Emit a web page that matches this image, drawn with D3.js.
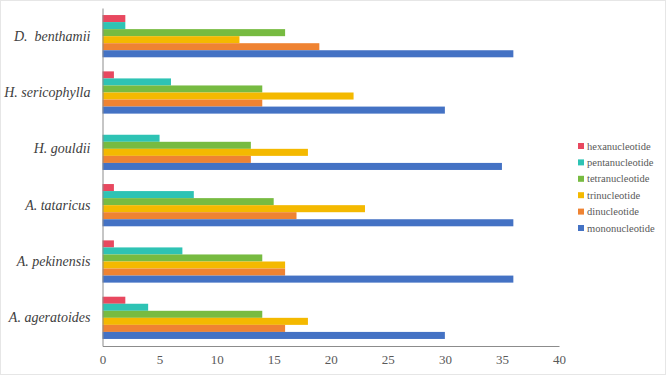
<!DOCTYPE html>
<html><head><meta charset="utf-8">
<script src="https://cdn.jsdelivr.net/npm/d3@7"></script>
<style>body{margin:0;background:#fff}svg{display:block}</style>
</head><body>
<script>
const categories = ["D.  benthamii","H. sericophylla","H. gouldii","A. tataricus","A. pekinensis","A. ageratoides"];
const seriesNames = ["hexanucleotide","pentanucleotide","tetranucleotide","trinucleotide","dinucleotide","mononucleotide"];
const seriesColors = ["#e8485f","#2ec3b4","#77bb41","#f4b900","#ef8332","#4472c4"];
const hexanucleotide  = [2,1,0,1,1,2];
const pentanucleotide = [2,6,5,8,7,4];
const tetranucleotide = [16,14,13,15,14,14];
const trinucleotide   = [12,22,18,23,16,18];
const dinucleotide    = [19,14,13,17,16,16];
const mononucleotide  = [36,30,35,36,36,30];
const xTicks = [0,5,10,15,20,25,30,35,40];
const seriesValues = [hexanucleotide,pentanucleotide,tetranucleotide,trinucleotide,dinucleotide,mononucleotide];

(function(){
const W=666,H=375;
const FONT="Liberation Serif";
const svg=d3.select("body").append("svg").attr("width",W).attr("height",H);
svg.append("rect").attr("x",0.5).attr("y",0.5).attr("width",W-1).attr("height",H-1).attr("fill","#fff").attr("stroke","#e6e6e6");

const pLeft=102.5,pRight=559,pTop=8,pBottom=346;
const x=d3.scaleLinear().domain([0,40]).range([pLeft,pRight]);
const y=d3.scaleBand().domain(categories).range([pTop,pBottom]).paddingInner(0.25).paddingOuter(0.125);
const ys=d3.scaleBand().domain(seriesNames).range([0,y.bandwidth()]);

const g=svg.append("g");
categories.forEach((c,ci)=>{
  seriesNames.forEach((s,si)=>{
    const v=seriesValues[si][ci];
    if(v<=0) return;
    g.append("rect").attr("x",x(0)).attr("y",y(c)+ys(s)).attr("width",x(v)-x(0)).attr("height",ys.bandwidth())
      .attr("fill",seriesColors[si]);
  });
});

const xa=svg.append("g").attr("transform",`translate(0,${pBottom})`)
  .call(d3.axisBottom(x).tickValues(xTicks).tickSize(0).tickPadding(9).tickFormat(d3.format("d")));
xa.attr("font-family",FONT).attr("font-size",13);
xa.select(".domain").attr("stroke","#8c8c8c");
xa.selectAll("text").attr("fill","#595959");

const ya=svg.append("g").attr("transform",`translate(${pLeft},0)`)
  .call(d3.axisLeft(y).tickSize(0).tickPadding(12));
ya.attr("font-family",FONT).attr("font-size",14);
ya.select(".domain").attr("stroke","#8c8c8c");
ya.selectAll("text").attr("font-style","italic").attr("fill","#404040").style("white-space","pre");

const leg=svg.append("g").attr("font-family",FONT).attr("font-size",10.5);
seriesNames.forEach((s,i)=>{
  const ly=146+i*16.4;
  leg.append("rect").attr("x",578).attr("y",ly-3).attr("width",6).attr("height",6).attr("fill",seriesColors[i]);
  leg.append("text").attr("x",587).attr("y",ly).attr("dy","0.35em").text(s).attr("fill","#595959");
});
})();
</script>
</body></html>
